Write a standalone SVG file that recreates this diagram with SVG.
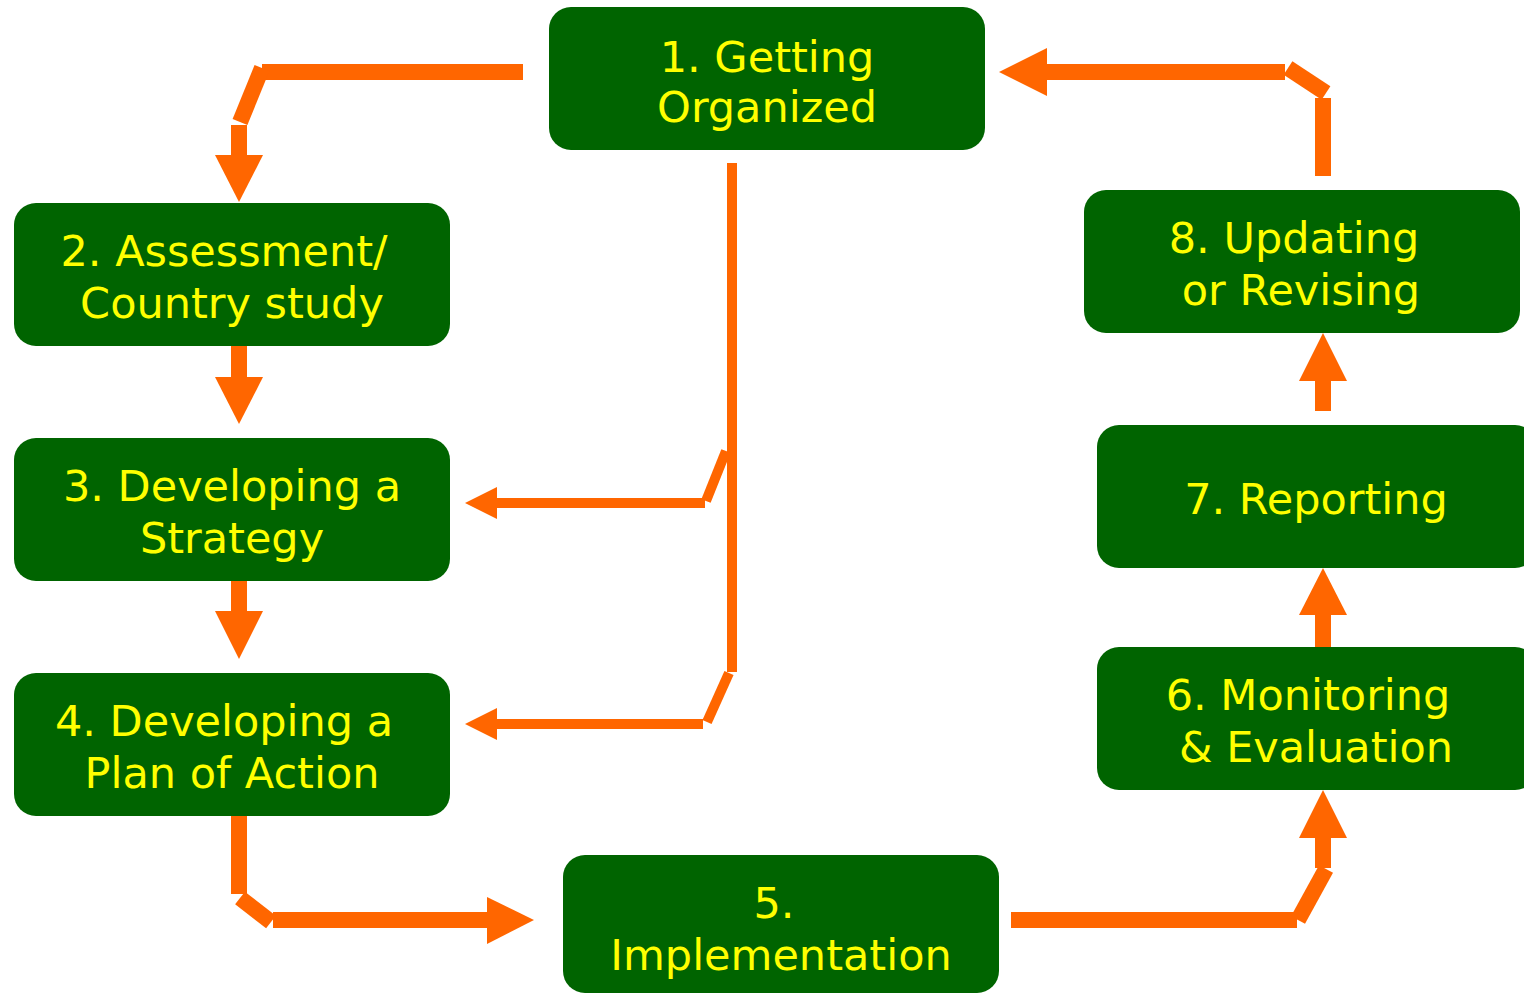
<svg xmlns="http://www.w3.org/2000/svg" width="1524" height="994" viewBox="0 0 1524 994">
<style>
.box{fill:#006400;}
.t{font-family:"DejaVu Sans","Verdana",sans-serif;font-size:43px;fill:#FFFF00;text-anchor:middle;}
.c{stroke:#FF6600;stroke-width:16;fill:none;stroke-linecap:butt;}
.cn{stroke:#FF6600;stroke-width:10;fill:none;stroke-linecap:butt;}
.ah{fill:#FF6600;}
</style>
<rect width="1524" height="994" fill="#FFFFFF"/>
<g id="connectors">
  <!-- 1 -> 2 -->
  <line class="c" x1="523" y1="72" x2="262" y2="72"/>
  <line class="c" x1="262" y1="68" x2="240" y2="122"/>
  <line class="c" x1="239" y1="125" x2="239" y2="156"/>
  <polygon class="ah" points="215,155 263,155 239,202"/>
  <!-- 2 -> 3 -->
  <line class="c" x1="239" y1="346" x2="239" y2="378"/>
  <polygon class="ah" points="215,377 263,377 239,424"/>
  <!-- 3 -> 4 -->
  <line class="c" x1="239" y1="581" x2="239" y2="612"/>
  <polygon class="ah" points="215,611 263,611 239,659"/>
  <!-- 1 -> 3, 1 -> 4 -->
  <line class="cn" x1="732" y1="163" x2="732" y2="672"/>
  <line class="cn" x1="726" y1="451" x2="706" y2="501"/>
  <line class="cn" x1="705" y1="503" x2="495" y2="503"/>
  <polygon class="ah" points="497,487 497,519 465,503"/>
  <line class="cn" x1="729" y1="673" x2="707" y2="722"/>
  <line class="cn" x1="703" y1="724" x2="495" y2="724"/>
  <polygon class="ah" points="497,708 497,740 465,724"/>
  <!-- 4 -> 5 -->
  <line class="c" x1="239" y1="816" x2="239" y2="894"/>
  <line class="c" x1="240" y1="898" x2="271" y2="922"/>
  <line class="c" x1="273" y1="920" x2="488" y2="920"/>
  <polygon class="ah" points="487,897 487,944 534,920"/>
  <!-- 5 -> 6 -->
  <line class="c" x1="1011" y1="920" x2="1297" y2="920"/>
  <line class="c" x1="1298" y1="920" x2="1326" y2="869"/>
  <line class="c" x1="1323" y1="868" x2="1323" y2="837"/>
  <polygon class="ah" points="1299,838 1347,838 1323,790"/>
  <!-- 6 -> 7 -->
  <line class="c" x1="1323" y1="647" x2="1323" y2="614"/>
  <polygon class="ah" points="1299,615 1347,615 1323,568"/>
  <!-- 7 -> 8 -->
  <line class="c" x1="1323" y1="411" x2="1323" y2="380"/>
  <polygon class="ah" points="1299,381 1347,381 1323,333"/>
  <!-- 8 -> 1 -->
  <line class="c" x1="1323" y1="176" x2="1323" y2="98"/>
  <line class="c" x1="1326" y1="93" x2="1288" y2="68"/>
  <line class="c" x1="1285" y1="72" x2="1046" y2="72"/>
  <polygon class="ah" points="1047,48 1047,96 999,72"/>
</g>
<g id="node1">
  <rect class="box" x="549" y="7" width="436" height="143" rx="22"/>
  <text class="t" x="767" y="72">1. Getting</text>
  <text class="t" x="767" y="122">Organized</text>
</g>
<g id="node2">
  <rect class="box" x="14" y="203" width="436" height="143" rx="22"/>
  <text class="t" x="224" y="266">2. Assessment/</text>
  <text class="t" x="232" y="318">Country study</text>
</g>
<g id="node3">
  <rect class="box" x="14" y="438" width="436" height="143" rx="22"/>
  <text class="t" x="232" y="501">3. Developing a</text>
  <text class="t" x="232" y="553">Strategy</text>
</g>
<g id="node4">
  <rect class="box" x="14" y="673" width="436" height="143" rx="22"/>
  <text class="t" x="224" y="736">4. Developing a</text>
  <text class="t" x="232" y="788">Plan of Action</text>
</g>
<g id="node5">
  <rect class="box" x="563" y="855" width="436" height="138" rx="22"/>
  <text class="t" x="774" y="918">5.</text>
  <text class="t" x="781" y="970">Implementation</text>
</g>
<g id="node6">
  <rect class="box" x="1097" y="647" width="440" height="143" rx="22"/>
  <text class="t" x="1308" y="710">6. Monitoring</text>
  <text class="t" x="1316" y="762">&amp; Evaluation</text>
</g>
<g id="node7">
  <rect class="box" x="1097" y="425" width="440" height="143" rx="22"/>
  <text class="t" x="1316" y="514">7. Reporting</text>
</g>
<g id="node8">
  <rect class="box" x="1084" y="190" width="436" height="143" rx="22"/>
  <text class="t" x="1294" y="253">8. Updating</text>
  <text class="t" x="1301" y="305">or Revising</text>
</g>
</svg>
